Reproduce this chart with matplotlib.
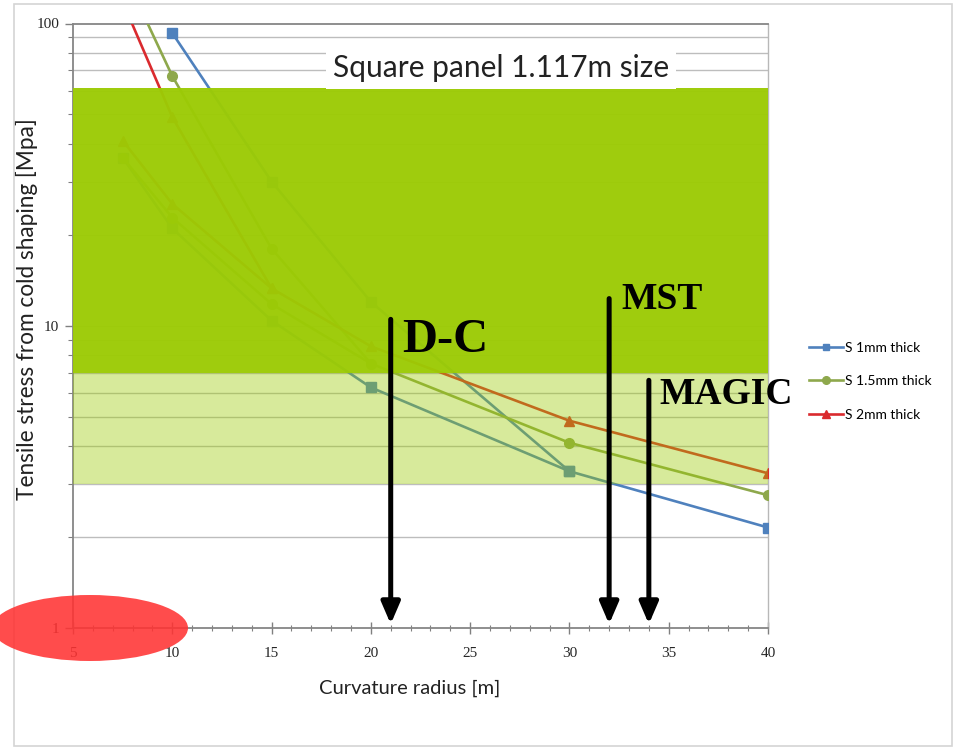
import numpy as np
import matplotlib
matplotlib.use('Agg')
import matplotlib.pyplot as plt
from matplotlib.patches import Ellipse, Rectangle
from matplotlib.lines import Line2D
from matplotlib.ticker import LogLocator, MultipleLocator, NullFormatter, FixedLocator, FixedFormatter

# Cold-shaping stress vs curvature radius, two curves per glass thickness
blue_upper_x = [10, 15, 20, 30, 40]
blue_upper_y = [93, 30, 12, 3.3, 2.15]
blue_lower_x = [7.5, 10, 15, 20, 30]
blue_lower_y = [36, 21, 10.4, 6.25, 3.3]

green_upper_x = [7.5, 10, 15, 20, 30, 40]
green_upper_y = [150, 67, 18, 7.5, 4.1, 2.75]
green_lower_x = [7.5, 10, 15, 20]
green_lower_y = [36, 22.8, 11.8, 7.5]

red_upper_x = [7.5, 10, 15, 20, 30, 40]
red_upper_y = [118, 49, 13.3, 8.55, 4.85, 3.25]
red_lower_x = [7.5, 10, 15]
red_lower_y = [41, 25.3, 13.3]

series_labels = ['S 1mm thick', 'S 1.5mm thick', 'S 2mm thick']

# acceptance bands (stress range)
band_strong = (7.0, 61.0)
band_light = (3.0, 7.0)

# telescope curvature radii
tel_names = ['D-C', 'MST', 'MAGIC']
tel_radius = [21, 32, 34]
tel_top = [10.5, 12.3, 6.6]
tel_text_x = [21.6, 32.6, 34.55]
tel_text_y = [8.2, 11.4, 5.5]

x_ticks = [5, 10, 15, 20, 25, 30, 35, 40]
y_ticks = [1, 10, 100]

blue = '#4F81BD'
green = '#8EA84C'
red = '#DA2A2E'
band_col = '#9CCB05'

fig = plt.figure(figsize=(9.59, 7.5), dpi=100)
ax = fig.add_axes([73/959, 1 - 628/750, (768 - 73)/959, (628 - 23.5)/750])

ax.set_yscale('log')
ax.set_xlim(5, 40)
ax.set_ylim(1, 100)

lw = 1.9
ms = 6.5
ax.plot(blue_upper_x, blue_upper_y, color=blue, lw=lw, marker='s', ms=ms, zorder=3)
ax.plot(blue_lower_x, blue_lower_y, color=blue, lw=lw, marker='s', ms=ms, zorder=3)
ax.plot(green_upper_x, green_upper_y, color=green, lw=lw, marker='o', ms=ms + 0.5, zorder=3)
ax.plot(green_lower_x, green_lower_y, color=green, lw=lw, marker='o', ms=ms + 0.5, zorder=3)
ax.plot(red_upper_x, red_upper_y, color=red, lw=lw, marker='^', ms=ms + 1, zorder=3)
ax.plot(red_lower_x, red_lower_y, color=red, lw=lw, marker='^', ms=ms + 1, zorder=3)

# green bands sit on top of the curves
ax.axhspan(*band_strong, color=band_col, alpha=0.97, lw=0, zorder=4)
ax.axhspan(*band_light, color=band_col, alpha=0.4, lw=0, zorder=4)

# gridlines at every log minor step
grid_vals = [v * d for d in (1, 10) for v in range(2, 10)] + [10]
for g in grid_vals:
    ax.axhline(g, color='#BDBDBD', lw=1.0, zorder=1)

ax.yaxis.set_major_locator(FixedLocator(y_ticks))
ax.yaxis.set_major_formatter(FixedFormatter([str(v) for v in y_ticks]))
ax.yaxis.set_minor_locator(LogLocator(base=10, subs=np.arange(2, 10)))
ax.yaxis.set_minor_formatter(NullFormatter())
ax.xaxis.set_major_locator(FixedLocator(x_ticks))
ax.xaxis.set_minor_locator(MultipleLocator(1))

for lab in ax.get_xticklabels() + ax.get_yticklabels():
    lab.set_fontfamily('Liberation Serif')
    lab.set_fontsize(11)
    lab.set_color('#262626')
ax.tick_params(axis='x', which='major', direction='inout', length=9, width=1, color='#808080', pad=9)
ax.tick_params(axis='x', which='minor', direction='inout', length=5, width=0.8, color='#808080')
ax.tick_params(axis='y', which='major', direction='out', length=6, width=1, color='#808080', pad=4)
ax.tick_params(axis='y', which='minor', direction='out', length=3.5, width=0.8, color='#808080')

for side in ['left', 'bottom', 'top']:
    ax.spines[side].set_color('#868686')
    ax.spines[side].set_linewidth(1.3)
ax.spines['right'].set_color('#B8B8B8')
ax.spines['right'].set_linewidth(1.0)

ax.set_xlabel('Curvature radius [m]', family='Lato', fontsize=14.5, color='#222222')
ax.set_ylabel('Tensile stress from cold shaping [Mpa]', family='Lato', fontsize=16.3,
              color='#222222')
ax.xaxis.set_label_coords(0.485, -0.085)
ax.yaxis.set_label_coords(-0.05, 0.528)

ax.text(26.55, 71, 'Square panel 1.117m size', family='Lato', fontsize=21.5, color='#222222',
        ha='center', va='center', zorder=6,
        bbox=dict(facecolor='white', edgecolor='none', pad=5))

# telescope markers
for name, r, top, tx, ty in zip(tel_names, tel_radius, tel_top, tel_text_x, tel_text_y):
    ax.annotate('', xy=(r, 1.03), xytext=(r, top),
                arrowprops=dict(arrowstyle='-|>,head_width=0.28,head_length=0.65',
                                mutation_scale=20, lw=3.6, color='black',
                                shrinkA=0, shrinkB=0),
                zorder=7, annotation_clip=False)
    size = 35 if name == 'D-C' else 27
    ax.text(tx, ty, name, family='Liberation Serif', weight='bold', fontsize=size,
            color='black', ha='left', va='baseline', zorder=7, clip_on=False)

handles = [
    Line2D([], [], color=blue, lw=lw, marker='s', ms=5),
    Line2D([], [], color=green, lw=lw, marker='o', ms=5.5),
    Line2D([], [], color=red, lw=lw, marker='^', ms=6),
]
fig.legend(handles, series_labels, loc='upper left', bbox_to_anchor=(803/959, 1 - 336/750),
           frameon=False, prop=dict(family='Lato', size=10), handlelength=2.5,
           handletextpad=0.1, labelspacing=1.55, borderaxespad=0)

# overlay for chart frame and highlight ellipse
over = fig.add_axes([0, 0, 1, 1], zorder=10)
over.set_xlim(0, 959)
over.set_ylim(750, 0)
over.axis('off')
over.patch.set_visible(False)
over.add_patch(Rectangle((14, 4), 938, 742, fill=False, edgecolor='#D4D4D4', lw=1.2))
over.add_patch(Ellipse((90, 628), 196, 66, facecolor='#FF3333', edgecolor='none', alpha=0.88))

fig.savefig('out.png', dpi=100)
